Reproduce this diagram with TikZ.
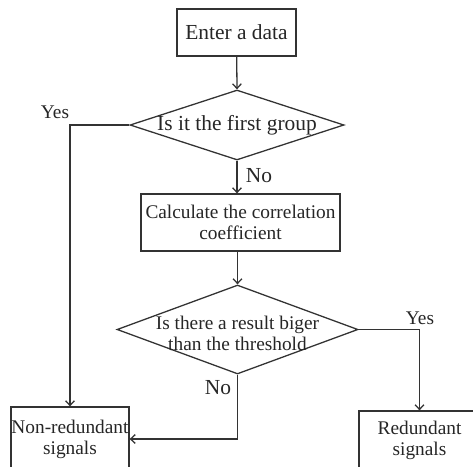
\documentclass[tikz,border=0pt]{standalone}
\usepackage{fontspec}
\setmainfont{Liberation Serif}
\usetikzlibrary{shapes.geometric,arrows.meta}
\newcommand\bigtxt{\fontsize{18.3}{21}\selectfont}
\newcommand\regtxt{\fontsize{16.5}{18}\selectfont}
\begin{document}
\begin{tikzpicture}[x=0.03cm,y=-0.03cm,line width=1.1pt,draw=black!80,text=black!85,
    box/.style={draw,rectangle,inner sep=0pt,align=center,font=\regtxt},
    decision/.style={draw,diamond,inner sep=0pt},
    flow/.style={-{Straight Barb[length=4pt,width=7.5pt]}},
    answer/.style={font=\regtxt}]
  \useasboundingbox (0,0) rectangle (473,466);
  \clip (0,0) rectangle (473,466);
  % boxes and decisions
  \node[box,font=\bigtxt,minimum width=3.57cm,minimum height=1.41cm] (enter) at (236.5,32.5) {Enter a data};
  \node[decision,minimum width=6.42cm,minimum height=2.1cm,
    label={[font=\bigtxt]center:Is it the first group}] (first) at (237,125) {};
  \node[box,minimum width=5.97cm,minimum height=1.71cm] (calc) at (240.5,222.5) {Calculate the correlation\\coefficient};
  \node[decision,minimum width=7.23cm,minimum height=2.67cm,
    label={[font=\regtxt,align=center,yshift=-3pt]center:Is there a result biger\\than the threshold}] (check) at (237.5,329.5) {};
  \node[box,minimum width=3.54cm,minimum height=1.92cm] (nonred) at (70,439) {Non-redundant\\signals};
  \node[box,minimum width=3.63cm,minimum height=1.74cm] (red) at (419.5,440) {Redundant\\signals};
  % connectors
  \draw[flow] (enter) -- (first.north);
  \draw[flow] (first.west) -| (nonred.north);
  \draw[flow] (first.south) -- (first.south |- calc.north);
  \draw[flow] (calc.south -| check.north) -- (check.north);
  \draw[flow] (check.east) -| (red.north);
  \draw[flow] (check.south) |- (nonred.east);
  % answers
  \node[answer] (yes1) at (55,112) {Yes};
  \node[answer,font=\bigtxt] (no1) at (259,176) {No};
  \node[answer] (yes2) at (420,318) {Yes};
  \node[answer,font=\bigtxt] (no2) at (218,388) {No};
\end{tikzpicture}
\end{document}
